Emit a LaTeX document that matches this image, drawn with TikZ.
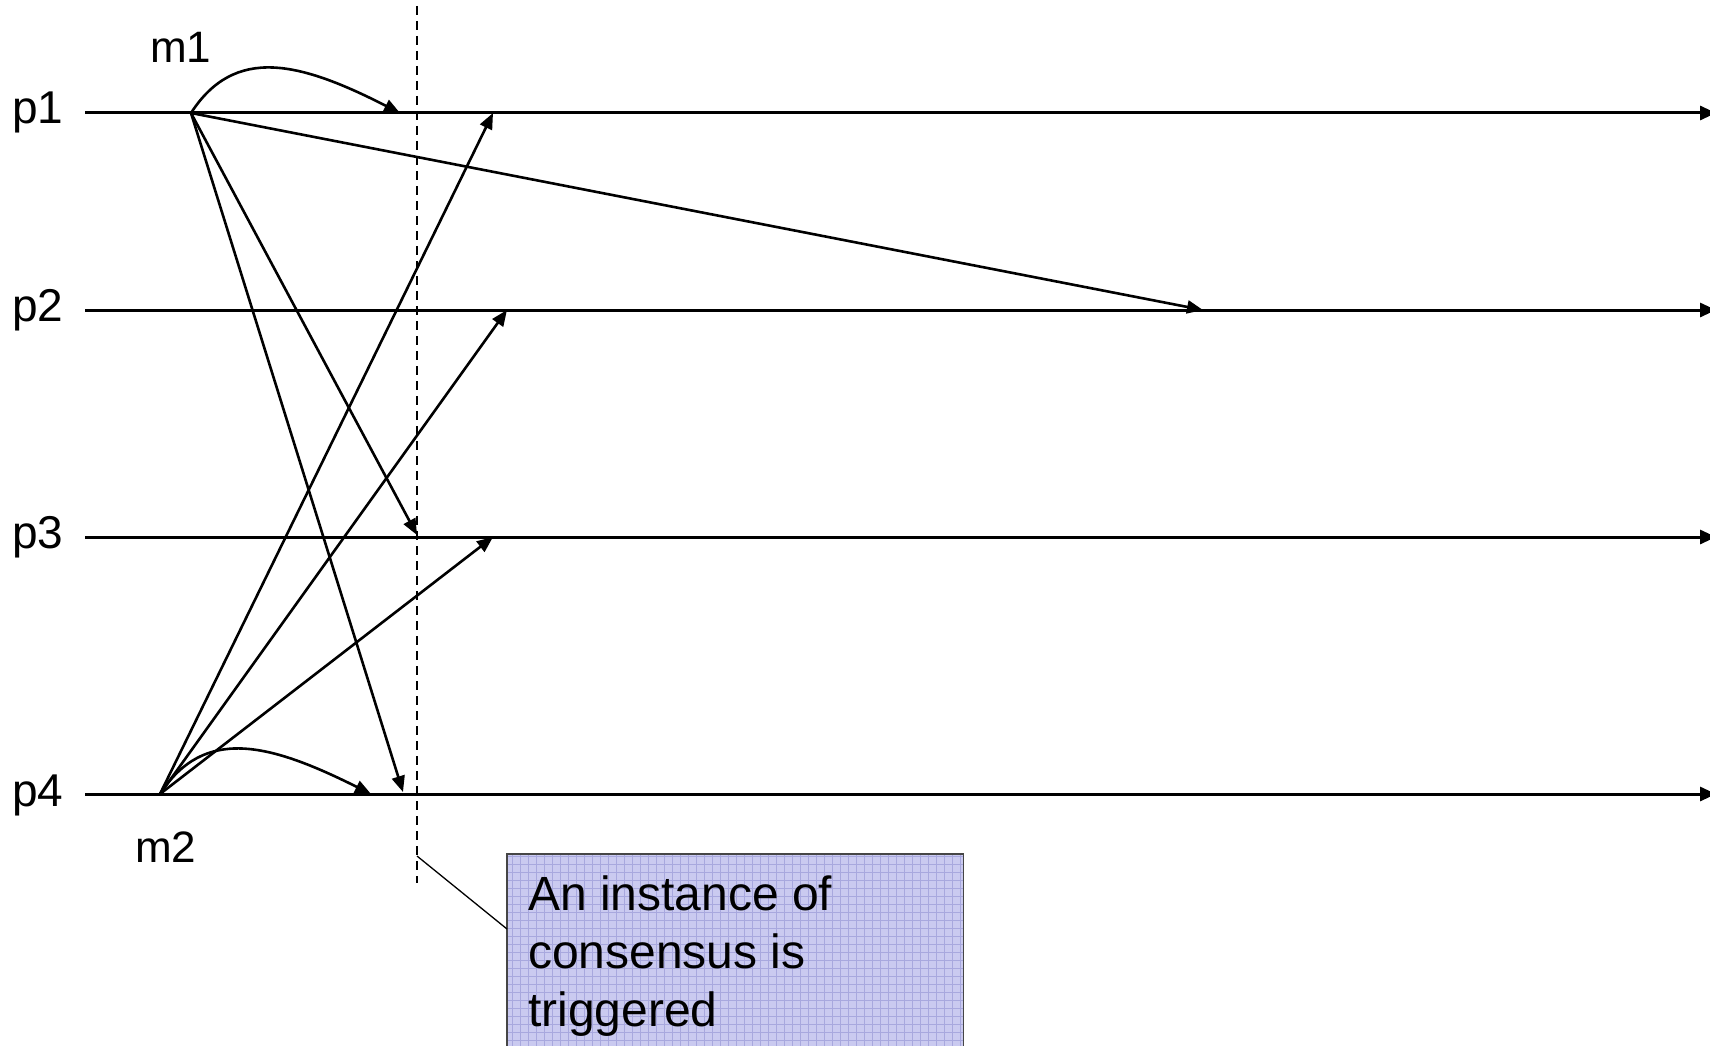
\documentclass[tikz,border=0pt]{standalone}
\usepackage{fontspec}
\setmainfont{Liberation Sans}
\usetikzlibrary{arrows.meta}
\definecolor{boxfill}{RGB}{202,202,240}
\definecolor{boxgrid}{RGB}{168,168,222}
\definecolor{boxedge}{RGB}{70,70,70}
\begin{document}
\begin{tikzpicture}[x=1pt,y=-1pt,
  timeline/.style={line width=3pt,-{Triangle[length=16pt,width=14pt]}},
  msg/.style={line width=2.6pt,-{Triangle[length=16pt,width=13pt]}},
  lbl/.style={font=\fontsize{44}{50}\selectfont, inner sep=0pt, anchor=base west},
  plbl/.style={font=\fontsize{46}{52}\selectfont, inner sep=0pt, anchor=base west},
  boxtxt/.style={font=\fontsize{48}{58}\selectfont, inner sep=0pt, anchor=base west},
  trigger/.style={line width=1.8pt, dash pattern=on 9pt off 6pt},
  callout/.style={line width=1.3pt},
]
\clip (0,0) rectangle (1710,1046);
\fill[white] (0,0) rectangle (1710,1046);

% timelines
\coordinate (s1) at (85,113);  \coordinate (e1) at (1716,113);
\coordinate (s2) at (85,310);  \coordinate (e2) at (1716,310);
\coordinate (s3) at (85,537);  \coordinate (e3) at (1716,537);
\coordinate (s4) at (85,794);  \coordinate (e4) at (1716,794);
\draw[timeline] (s1) -- (e1);
\draw[timeline] (s2) -- (e2);
\draw[timeline] (s3) -- (e3);
\draw[timeline] (s4) -- (e4);

% labels
\node[plbl] (p1) at (12,124) {p1};
\node[plbl] (p2) at (12,321) {p2};
\node[plbl] (p3) at (12,548) {p3};
\node[plbl] (p4) at (12,806) {p4};
\node[lbl] (m1) at (150,63) {m1};
\node[lbl] (m2) at (135,862) {m2};

% message sources and receipt points
\coordinate (a) at (191,113);
\coordinate (b) at (160,794);
\coordinate (a1) at (400,113);
\coordinate (a2) at (1203,310);
\coordinate (a3) at (417,535);
\coordinate (a4) at (403,792);
\coordinate (b1) at (493,113);
\coordinate (b2) at (507,310);
\coordinate (b3) at (493,537);
\coordinate (b4) at (371,794);

% m1 broadcast
\draw[msg] (a) .. controls (235,45) and (300,62) .. (a1);
\draw[msg] (a) -- (a2);
\draw[msg] (a) -- (a3);
\draw[msg] (a) -- (a4);

% m2 broadcast
\draw[msg] (b) .. controls (204,726) and (269,743) .. (b4);
\draw[msg] (b) -- (b1);
\draw[msg] (b) -- (b2);
\draw[msg] (b) -- (b3);

% dashed trigger line
\coordinate (dtop) at (417,6);
\coordinate (dbot) at (417,883);
\draw[trigger] (dtop) -- (dbot);

% note box
\node[fill=boxfill, minimum width=456pt, minimum height=240pt, inner sep=0pt, anchor=north west] (box) at (507,854) {};
\begin{scope}
  \clip (box.north west) rectangle (box.south east);
  \draw[boxgrid, line width=0.6pt, step=8pt] (box.north west) grid (box.south east);
\end{scope}
\draw[boxedge, line width=1.5pt] (box.north west) rectangle (box.south east);
\node[boxtxt] (t1) at (528,910) {An instance of};
\node[boxtxt] (t2) at (528,968) {consensus is};
\node[boxtxt] (t3) at (528,1026) {triggered};

% callout
\coordinate (cbend) at (417,856);
\coordinate (cbox) at (507,929);
\draw[callout] (cbend) -- (cbox);
\end{tikzpicture}
\end{document}
